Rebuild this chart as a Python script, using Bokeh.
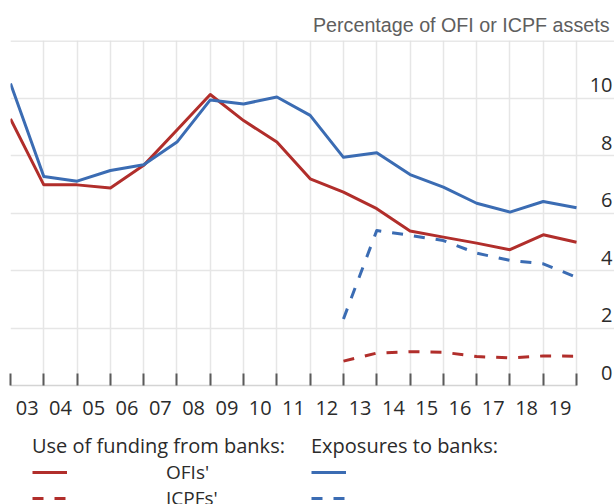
from bokeh.plotting import figure
from bokeh.models import (Range1d, FixedTicker, Span, Legend, LegendItem,
                          Title, ColumnDataSource)
from bokeh.core.properties import value
from bokeh.layouts import column
from bokeh.embed import file_html
from bokeh.resources import INLINE

# ---- data ----
years = list(range(2002, 2020))
ofi_funding = [9.29, 6.99, 6.99, 6.88, 7.67, 8.90, 10.14, 9.23, 8.48, 7.20,
               6.74, 6.16, 5.38, 5.17, 4.96, 4.73, 5.25, 4.99]
ofi_exposure = [10.52, 7.28, 7.12, 7.49, 7.69, 8.48, 9.95, 9.81, 10.05, 9.41,
                7.95, 8.11, 7.35, 6.91, 6.35, 6.04, 6.41, 6.19]
icpf_years = list(range(2012, 2020))
icpf_funding = [0.85, 1.13, 1.18, 1.16, 1.01, 0.96, 1.03, 1.02]
icpf_exposure = [2.32, 5.40, 5.23, 5.05, 4.61, 4.36, 4.24, 3.77]
y_ticks = [0, 2, 4, 6, 8, 10]
y_tick_labels = ["0", "2", "4", "6", "8", "10"]
x_tick_labels = ["03", "04", "05", "06", "07", "08", "09", "10", "11", "12",
                 "13", "14", "15", "16", "17", "18", "19"]

RED = "#b12e2b"
BLUE = "#3b6cb3"
FONT = "Open Sans"
TXT = "#2b2b2b"
DASH = "11 11"

X_END = 2020.14
Y_TOP = 12.02

p = figure(width=614, height=430, output_backend="svg", toolbar_location=None,
           x_range=Range1d(2002, X_END), y_range=Range1d(0, Y_TOP),
           x_axis_location="below", y_axis_location=None,
           min_border_left=10, min_border_right=0, min_border_top=40,
           min_border_bottom=45)
p.outline_line_color = None

# grids
p.xgrid.ticker = FixedTicker(ticks=years)
p.xgrid.grid_line_color = "#e6e6e6"
p.xgrid.grid_line_width = 1.5
p.ygrid.ticker = FixedTicker(ticks=y_ticks)
p.ygrid.grid_line_color = "#e6e6e6"
p.ygrid.grid_line_width = 1.5

# top rule
p.add_layout(Span(location=Y_TOP - 0.02, dimension="width",
                  line_color="#e0e0e0", line_width=1.5))

# bottom axis: labels centred in each year, ticks at year boundaries
mids = [y + 0.5 for y in years[:-1]]
xa = p.xaxis[0]
xa.ticker = FixedTicker(ticks=mids, minor_ticks=years)
xa.major_label_overrides = {m: lab for m, lab in zip(mids, x_tick_labels)}
xa.major_tick_line_color = None
xa.minor_tick_in = 12
xa.minor_tick_out = 0
xa.minor_tick_line_color = "#5a5a5a"
xa.minor_tick_line_width = 2
xa.axis_line_color = "#d4d4d4"
xa.axis_line_width = 1.5
xa.bounds = (2002, 2019)
xa.major_label_text_font = FONT
xa.major_label_text_font_size = "20px"
xa.major_label_text_color = TXT
xa.major_label_standoff = 9

# right-hand value labels, sitting just above their gridlines
lab_src = ColumnDataSource(dict(x=[X_END] * len(y_ticks), y=y_ticks,
                                t=y_tick_labels))
p.text(x="x", y="y", text="t", source=lab_src, text_align="right",
       text_baseline="middle", x_offset=-2, y_offset=-13,
       text_font=value(FONT), text_font_size="20px", text_color=TXT)

# title
p.add_layout(Title(text="Percentage of OFI or ICPF assets", align="right",
                   text_font="Liberation Sans", text_font_size="19.7px",
                   text_font_style="normal", text_color="#5e5e5e",
                   standoff=10, offset=5), "above")

# lines
kw = dict(line_width=3, line_join="round")
p.line(years, ofi_funding, line_color=RED, **kw)
p.line(icpf_years, icpf_funding, line_color=RED, line_dash=DASH, **kw)
p.line(years, ofi_exposure, line_color=BLUE, **kw)
p.line(icpf_years, icpf_exposure, line_color=BLUE, line_dash=DASH, **kw)

# ---- legend strip (same series, drawn outside its visible range) ----
lf = figure(width=614, height=74, output_backend="svg", toolbar_location=None,
            x_range=Range1d(0, 1), y_range=Range1d(0, 1),
            x_axis_location=None, y_axis_location=None,
            min_border_left=0, min_border_right=0, min_border_top=0,
            min_border_bottom=0)
lf.outline_line_color = None
lf.xgrid.visible = False
lf.ygrid.visible = False
l1 = lf.line(years, ofi_funding, line_color=RED, **kw)
l2 = lf.line(icpf_years, icpf_funding, line_color=RED, line_dash=DASH, **kw)
l3 = lf.line(years, ofi_exposure, line_color=BLUE, **kw)
l4 = lf.line(icpf_years, icpf_exposure, line_color=BLUE, line_dash=DASH, **kw)


def make_legend(title, items, loc):
    lg = Legend(items=items, title=title, location=loc,
                orientation="vertical")
    lg.background_fill_alpha = 0
    lg.border_line_color = None
    lg.padding = 0
    lg.margin = 0
    lg.spacing = 0
    lg.glyph_width = 35
    lg.glyph_height = 26
    lg.label_height = 26
    lg.label_standoff = 99
    lg.label_text_font = FONT
    lg.label_text_font_size = "19px"
    lg.label_text_color = TXT
    lg.title_text_font = FONT
    lg.title_text_font_size = "20px"
    lg.title_text_font_style = "normal"
    lg.title_text_color = TXT
    lg.title_standoff = 0
    return lg


leg1 = make_legend("Use of funding from banks:",
                   [LegendItem(label="OFIs'", renderers=[l1]),
                    LegendItem(label="ICPFs'", renderers=[l2])], (22, -7))
leg2 = make_legend("Exposures to banks:",
                   [LegendItem(label=" ", renderers=[l3]),
                    LegendItem(label=" ", renderers=[l4])], (301, -7))
lf.add_layout(leg1)
lf.add_layout(leg2)

open("out.html", "w").write(file_html(column(p, lf), INLINE))
